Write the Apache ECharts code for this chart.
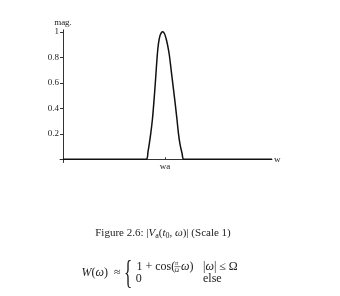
<!DOCTYPE html>
<html><head><meta charset="utf-8">
<script src="https://cdn.jsdelivr.net/npm/echarts@6/dist/echarts.min.js"></script>
<style>html,body{margin:0;padding:0;background:#fff}#c{width:340px;height:296px}</style>
</head><body><div id="c"></div>
<script>
// x in arbitrary frequency units (0 = magnitude axis), y = magnitude
const xVals = [0, 40, 83, 85, 87.7, 89.5, 91, 92.5, 94.3, 95.5, 97, 98.5, 99.7, 101.5, 103, 104.5, 106.3, 108, 110, 112, 114, 115.5, 117, 119, 121, 160, 209];
const magVals = [0, 0, 0, 0.06, 0.2, 0.32, 0.46, 0.62, 0.82, 0.91, 0.97, 0.995, 1.0, 0.985, 0.95, 0.9, 0.82, 0.71, 0.58, 0.45, 0.31, 0.2, 0.12, 0.05, 0, 0, 0];
const yTicks = [0.2, 0.4, 0.6, 0.8, 1];
const xTicks = [102];
const xTickLabels = ['wa'];
const xName = 'w';
const yName = 'mag.';

const serif = '"Liberation Serif","DejaVu Serif",serif';
const chart = echarts.init(document.getElementById('c'), null, {renderer: 'canvas'});
const F = 12;
const rn = {font: F + 'px ' + serif, fill: '#222'};
const ri = {font: 'italic ' + F + 'px ' + serif, fill: '#222'};
const txt = (x, y, t, o) => Object.assign({type: 'text', x: x, y: y, style: Object.assign({text: t, fill: '#222', font: F + 'px ' + serif, textVerticalAlign: 'middle'}, o || {})});
chart.setOption({
  animation: false,
  grid: {left: 60, right: 68, top: 29.9, bottom: 133.5},
  xAxis: {
    type: 'value', min: -3, max: 209,
    axisLine: {onZero: true, lineStyle: {color: '#333', width: 1}},
    axisTick: {customValues: xTicks, length: 2, inside: true, lineStyle: {color: '#333'}},
    axisLabel: {customValues: xTicks, formatter: v => xTickLabels[xTicks.indexOf(v)] || '', margin: 0, color: '#222', fontFamily: serif, fontSize: 9},
    splitLine: {show: false},
    name: xName, nameLocation: 'end', nameGap: 2,
    nameTextStyle: {color: '#222', fontFamily: serif, fontSize: 9, verticalAlign: 'middle', padding: [2, 0, 0, 0]}
  },
  yAxis: {
    type: 'value', min: -0.025, max: 1.015,
    axisLine: {show: true, onZero: true, lineStyle: {color: '#333', width: 1}},
    axisTick: {show: true, customValues: yTicks, length: 3, lineStyle: {color: '#333'}},
    axisLabel: {customValues: yTicks, formatter: v => String(v), margin: 1, color: '#222', fontFamily: serif, fontSize: 9},
    splitLine: {show: false},
    name: yName, nameLocation: 'end', nameGap: 3,
    nameTextStyle: {color: '#222', fontFamily: serif, fontSize: 9}
  },
  series: [{
    type: 'line', data: xVals.map((x, i) => [x, magVals[i]]),
    showSymbol: false, smooth: 0.3,
    lineStyle: {color: '#111', width: 1.5}
  }],
  graphic: [
    {type: 'text', x: 163, y: 233, style: {
      text: '{n|Figure 2.6: |}{i|V}{s|a}{n|(}{i|t}{s|0}{n|, }{i|ω}{n|)| (Scale 1)}',
      align: 'center', verticalAlign: 'middle',
      rich: {
        n: {font: '11px ' + serif, fill: '#222'},
        i: {font: 'italic 11px ' + serif, fill: '#222'},
        s: {font: '8px ' + serif, fill: '#222', verticalAlign: 'bottom', padding: [5, 0, 0, 0]}
      }}},
    {type: 'text', x: 81.5, y: 272.7, style: {
      text: '{i|W}{n|(}{i|ω}{n|)  ≈}', verticalAlign: 'middle', rich: {n: rn, i: ri}}},
    {type: 'text', x: 124, y: 274.5, scaleX: 0.5, style: {text: '{', fill: '#222', font: '34px ' + serif, verticalAlign: 'middle'}},
    txt(136.5, 266.5, '1 + cos('),
    txt(175, 263, 'π', {font: 'italic 6px ' + serif}),
    txt(174.5, 270, 'Ω', {font: '6px ' + serif}),
    {type: 'line', shape: {x1: 174.5, y1: 266.6, x2: 180.5, y2: 266.6}, style: {stroke: '#222', lineWidth: 0.6}},
    txt(181, 266.5, '{i|ω}{n|)}', {rich: {n: rn, i: ri}}),
    txt(203, 266.5, '{n||}{i|ω}{n|| ≤ Ω}', {rich: {n: rn, i: ri}}),
    txt(135.7, 279.3, '0'),
    txt(203, 279.3, 'else')
  ]
});
</script></body></html>
